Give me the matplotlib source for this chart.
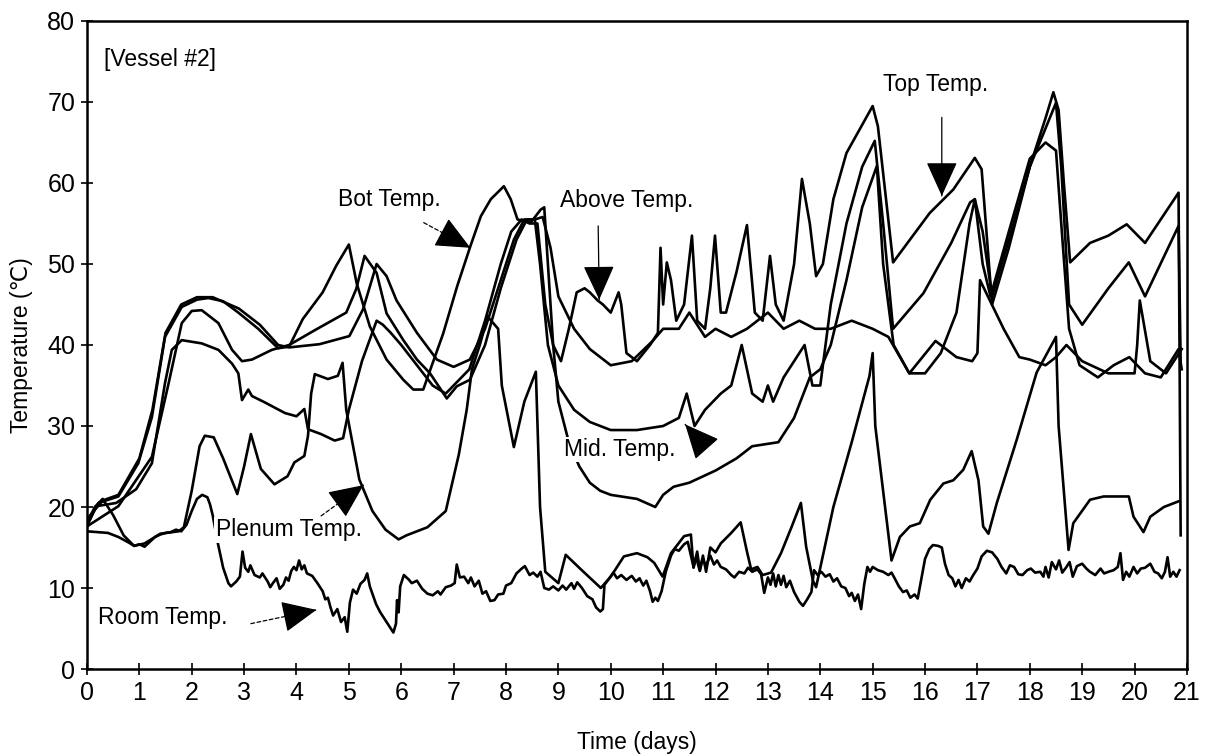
import matplotlib
matplotlib.use("Agg")
import matplotlib.pyplot as plt

plt.rcParams['font.family'] = ['Liberation Sans', 'DejaVu Sans']

# ---------------- data: (day, temperature degC) pairs ----------------
room = [(0, 17.0), (0.2, 16.9), (0.4, 16.8), (0.6, 16.3), (0.8, 15.6), (0.9, 15.2), (1.0, 15.4), (1.1, 15.1),
        (1.2, 15.7), (1.3, 16.3), (1.4, 16.6), (1.5, 16.8), (1.6, 16.9), (1.7, 17.2), (1.8, 17.0), (1.9, 17.8),
        (2.0, 19.5), (2.1, 21.0), (2.2, 21.5), (2.3, 21.2), (2.35, 20.3), (2.4, 19.0), (2.5, 15.5), (2.6, 12.5),
        (2.7, 10.6), (2.75, 10.2), (2.85, 10.8), (2.92, 11.4), (2.97, 14.5), (3.02, 12.5), (3.08, 12.0),
        (3.12, 12.8), (3.2, 11.6), (3.3, 11.3), (3.35, 11.8), (3.45, 10.8), (3.5, 10.1), (3.55, 10.6),
        (3.62, 11.2), (3.68, 9.9), (3.75, 10.4), (3.8, 11.3), (3.85, 10.9), (3.9, 12.1), (3.95, 12.6),
        (4.0, 12.2), (4.05, 13.4), (4.1, 12.3), (4.15, 12.8), (4.2, 11.8), (4.3, 11.5), (4.4, 10.6), (4.5, 9.6),
        (4.55, 8.6), (4.6, 8.8), (4.65, 7.6), (4.7, 6.6), (4.78, 7.4), (4.85, 5.8), (4.92, 6.4), (4.97, 4.6),
        (5.02, 8.2), (5.08, 9.8), (5.15, 9.3), (5.22, 10.5), (5.3, 11.0), (5.35, 11.8), (5.4, 10.2), (5.45, 9.3),
        (5.52, 8.0), (5.6, 7.0), (5.7, 6.0), (5.78, 5.2), (5.85, 4.5), (5.9, 5.6), (5.92, 8.5), (5.95, 7.0),
        (5.98, 10.2), (6.05, 11.6), (6.15, 11.0), (6.2, 10.6), (6.3, 10.9), (6.4, 9.9), (6.5, 9.3), (6.6, 9.1),
        (6.7, 9.6), (6.75, 9.2), (6.85, 10.1), (6.95, 10.3), (7.02, 10.6), (7.06, 12.9), (7.12, 11.3),
        (7.2, 11.4), (7.28, 10.6), (7.33, 11.3), (7.4, 10.2), (7.48, 10.9), (7.55, 9.3), (7.62, 9.6), (7.7, 8.4),
        (7.78, 8.5), (7.85, 9.2), (7.95, 9.3), (8.0, 10.3), (8.1, 10.6), (8.2, 11.8), (8.3, 12.4), (8.36, 12.7),
        (8.45, 11.6), (8.52, 11.9), (8.6, 11.4), (8.66, 12.0), (8.73, 10.0), (8.82, 9.8), (8.9, 10.2),
        (9.0, 9.7), (9.08, 10.3), (9.15, 9.8), (9.25, 10.6), (9.3, 9.9), (9.36, 10.7), (9.45, 10.0), (9.55, 9.0),
        (9.65, 8.6), (9.72, 7.6), (9.8, 7.1), (9.85, 7.4), (9.88, 10.4), (9.95, 11.0), (10.05, 11.9),
        (10.12, 11.2), (10.2, 11.6), (10.3, 11.0), (10.4, 11.5), (10.48, 10.8), (10.55, 11.2), (10.62, 10.3),
        (10.68, 10.9), (10.75, 9.6), (10.8, 8.3), (10.85, 8.8), (10.9, 8.4), (10.97, 9.6), (11.05, 12.0),
        (11.15, 14.0), (11.22, 14.8), (11.3, 14.6), (11.4, 15.4), (11.47, 15.7), (11.52, 14.3), (11.58, 12.6),
        (11.63, 13.8), (11.7, 12.1), (11.75, 13.5), (11.82, 12.8), (11.9, 14.0), (11.97, 12.9), (12.03, 13.4),
        (12.1, 12.6), (12.2, 12.3), (12.3, 11.6), (12.36, 11.3), (12.45, 12.0), (12.55, 11.8), (12.62, 12.5),
        (12.7, 12.0), (12.8, 12.3), (12.87, 11.7), (12.93, 9.4), (13.0, 11.3), (13.05, 10.4), (13.1, 11.8),
        (13.15, 10.2), (13.2, 11.6), (13.25, 10.4), (13.3, 11.5), (13.35, 10.1), (13.42, 10.9), (13.5, 9.5),
        (13.6, 8.3), (13.67, 7.8), (13.75, 8.6), (13.83, 9.5), (13.88, 12.2), (13.95, 11.6), (14.02, 12.0),
        (14.1, 11.4), (14.18, 11.7), (14.25, 10.8), (14.32, 11.2), (14.4, 10.2), (14.48, 10.0), (14.55, 9.0),
        (14.6, 9.4), (14.66, 8.4), (14.72, 9.2), (14.78, 7.4), (14.84, 10.5), (14.9, 12.6), (14.95, 12.0),
        (15.0, 12.6), (15.1, 12.2), (15.2, 12.0), (15.3, 11.6), (15.36, 11.9), (15.42, 11.2), (15.5, 10.2),
        (15.58, 9.5), (15.65, 9.7), (15.72, 8.8), (15.8, 9.2), (15.86, 8.7), (15.92, 10.8), (16.0, 13.6),
        (16.08, 14.8), (16.15, 15.3), (16.25, 15.2), (16.32, 15.0), (16.38, 13.0), (16.45, 11.6), (16.52, 11.2),
        (16.58, 10.2), (16.64, 11.0), (16.7, 10.0), (16.78, 11.2), (16.85, 10.8), (16.92, 11.6), (17.0, 12.4),
        (17.08, 13.9), (17.18, 14.6), (17.28, 14.4), (17.38, 13.6), (17.46, 12.6), (17.55, 11.8), (17.62, 12.8),
        (17.7, 12.6), (17.78, 11.7), (17.86, 11.6), (17.95, 12.2), (18.02, 12.4), (18.1, 11.9), (18.2, 12.0),
        (18.26, 11.4), (18.3, 12.6), (18.36, 11.3), (18.42, 13.2), (18.5, 12.3), (18.56, 13.4), (18.62, 11.9),
        (18.7, 12.6), (18.76, 13.2), (18.82, 11.4), (18.9, 12.7), (19.0, 13.0), (19.08, 12.4), (19.15, 12.0),
        (19.25, 11.6), (19.35, 12.4), (19.42, 11.8), (19.5, 12.0), (19.6, 12.2), (19.68, 12.6), (19.73, 14.3),
        (19.78, 11.0), (19.84, 12.0), (19.9, 11.4), (19.98, 12.6), (20.05, 11.8), (20.12, 12.4), (20.2, 12.5),
        (20.3, 13.0), (20.38, 12.0), (20.45, 11.8), (20.52, 11.2), (20.58, 12.0), (20.63, 13.8), (20.68, 11.4),
        (20.74, 12.0), (20.8, 11.4), (20.86, 12.2)]

plenum = [(0, 18), (0.15, 20), (0.3, 21), (0.5, 19), (0.7, 16.5), (0.9, 15.2), (1.1, 15.5), (1.4, 16.7),
          (1.75, 17), (1.85, 17.5), (2.0, 22), (2.15, 27.5), (2.25, 28.8), (2.42, 28.6), (2.6, 26), (2.87, 21.6),
          (3.0, 25), (3.13, 29), (3.32, 24.7), (3.58, 22.8), (3.83, 23.8), (3.96, 25.5), (4.15, 26.3),
          (4.22, 28.8), (4.28, 34), (4.35, 36.4), (4.6, 35.8), (4.79, 36.2), (4.88, 37.8), (4.95, 32),
          (5.2, 23.4), (5.45, 19.5), (5.7, 17.2), (5.95, 16), (6.1, 16.5), (6.5, 17.5), (6.85, 19.5),
          (7.1, 26.5), (7.25, 32), (7.35, 37), (7.5, 40), (7.65, 43.5), (7.85, 42), (7.92, 35), (8.15, 27.4),
          (8.35, 33), (8.57, 36.7), (8.65, 20), (8.75, 12), (9.0, 10.6), (9.14, 14.1), (9.43, 12.3), (9.81, 10),
          (10.0, 11.4), (10.25, 13.9), (10.5, 14.3), (10.7, 13.8), (10.83, 13.1), (10.99, 11.4), (11.15, 14.3),
          (11.4, 16.4), (11.53, 16.6), (11.58, 12.5), (11.65, 14.5), (11.7, 12.2), (11.76, 14.0), (11.82, 12.0),
          (11.9, 15), (12.0, 14.4), (12.1, 15.5), (12.3, 16.8), (12.48, 18.1), (12.6, 14.5), (12.68, 12.3),
          (12.8, 12.6), (12.9, 11.6), (13.06, 11.9), (13.25, 14.3), (13.45, 17.5), (13.63, 20.5), (13.73, 15.1),
          (13.86, 10.9), (13.92, 10.1), (14.25, 20), (14.6, 28), (14.94, 36.2), (15.0, 39), (15.05, 30),
          (15.36, 13.4), (15.52, 16.3), (15.71, 17.6), (15.9, 18), (16.1, 20.9), (16.35, 22.9), (16.54, 23.3),
          (16.73, 24.6), (16.89, 26.9), (17.02, 23.3), (17.11, 17.6), (17.21, 16.7), (17.37, 20.5), (17.75, 28.3),
          (18.13, 36.6), (18.5, 41), (18.55, 30), (18.74, 14.7), (18.83, 18), (19.15, 20.9), (19.41, 21.3),
          (19.89, 21.3), (19.98, 18.8), (20.17, 16.9), (20.3, 18.8), (20.56, 20), (20.84, 20.7)]

top = [(0, 17.6), (0.18, 20.1), (0.56, 20.5), (0.94, 22.2), (1.24, 25.4), (1.49, 35.3), (1.62, 39.4), (1.81, 40.6),
       (2.19, 40.2), (2.51, 39.4), (2.77, 37.7), (2.89, 36.5), (2.96, 33.2), (3.08, 34.5), (3.15, 33.7),
       (3.4, 32.9), (3.78, 31.6), (4.0, 31.2), (4.15, 32.1), (4.22, 29.6), (4.47, 29), (4.73, 28.2), (4.89, 28.5),
       (5.0, 32), (5.25, 38), (5.53, 43), (5.65, 42.5), (5.8, 41.5), (6.0, 40), (6.3, 37.5), (6.6, 35), (6.85, 34),
       (7.0, 35), (7.3, 37), (7.6, 43), (7.9, 50), (8.1, 54), (8.3, 55.5), (8.45, 55), (8.6, 55), (8.75, 45),
       (8.9, 40), (9.05, 38), (9.2, 42), (9.35, 46.5), (9.5, 47), (9.6, 46.5), (9.75, 45.5), (9.85, 45),
       (10.0, 44), (10.15, 46.5), (10.2, 45), (10.3, 39), (10.5, 38), (10.75, 40), (10.9, 41.5), (10.95, 52),
       (11.0, 45), (11.07, 50.2), (11.15, 48), (11.25, 43), (11.4, 45), (11.55, 53.5), (11.65, 43), (11.8, 42),
       (11.9, 47), (11.99, 53.5), (12.1, 44), (12.2, 44), (12.4, 49), (12.6, 54.8), (12.75, 44), (12.9, 43),
       (13.04, 51), (13.15, 45), (13.3, 43), (13.5, 50), (13.65, 60.5), (13.8, 55), (13.92, 48.5), (14.05, 50),
       (14.25, 58), (14.5, 63.7), (15.0, 69.5), (15.1, 67), (15.39, 50.2), (16.09, 56.3), (16.54, 59.2),
       (16.95, 63.1), (17.08, 61.7), (17.28, 45), (17.6, 52), (18.0, 62), (18.3, 68), (18.45, 71.2), (18.55, 69),
       (18.65, 60), (18.77, 50.2), (19.15, 52.6), (19.5, 53.5), (19.85, 54.9), (20.2, 52.6), (20.84, 58.8),
       (20.88, 16.5)]

mid = [(0, 17.6), (0.6, 20.1), (1.24, 26.2), (1.56, 35.3), (1.81, 42.7), (2.0, 44.2), (2.19, 44.3), (2.51, 42.7),
       (2.77, 39.4), (2.96, 38.0), (3.15, 38.2), (3.53, 39.4), (3.86, 40), (4.37, 41.9), (4.95, 44), (5.14, 46.9),
       (5.3, 51), (5.53, 48.9), (5.72, 43.9), (6.04, 40.6), (6.3, 38.2), (6.55, 36.5), (6.87, 33.4), (7.06, 34.9),
       (7.31, 35.7), (7.6, 40), (7.9, 47), (8.2, 53), (8.4, 55.5), (8.55, 55.5), (8.65, 50), (8.8, 40), (9.0, 35),
       (9.3, 32), (9.6, 30.5), (10.0, 29.5), (10.5, 29.5), (11.0, 30), (11.3, 31), (11.45, 34), (11.6, 30),
       (11.8, 32), (12.1, 34), (12.3, 35), (12.5, 40), (12.7, 34), (12.9, 33), (13.0, 35), (13.1, 33), (13.3, 36),
       (13.5, 38), (13.7, 40), (13.85, 35), (14.0, 35), (14.2, 45), (14.5, 55), (14.8, 62), (15.04, 65.2),
       (15.2, 55), (15.39, 42), (15.97, 46.4), (16.5, 52.6), (16.86, 57.6), (16.95, 58), (17.1, 54), (17.28, 46),
       (17.6, 53), (18.0, 62), (18.5, 69.9), (18.6, 62), (18.75, 45), (19.0, 42.5), (19.5, 47), (19.89, 50.2),
       (20.2, 46), (20.84, 54.7), (20.88, 38)]

bot = [(0, 18), (0.22, 20.5), (0.6, 21.3), (0.98, 25.4), (1.24, 31.1), (1.49, 41), (1.81, 44.7), (2.1, 45.6),
       (2.32, 45.8), (2.6, 45.4), (2.89, 44.0), (3.27, 42.0), (3.65, 39.6), (3.86, 39.8), (4.12, 43.2), (4.5, 46.5),
       (4.76, 49.8), (5.0, 52.4), (5.15, 47.6), (5.4, 42.3), (5.72, 38.2), (6.04, 35.7), (6.23, 34.5),
       (6.42, 34.5), (6.8, 41.4), (7.07, 47.3), (7.32, 52.2), (7.52, 55.9), (7.71, 58), (7.96, 59.6), (8.09, 58),
       (8.22, 55.5), (8.47, 55.1), (8.66, 56.7), (8.73, 57), (8.8, 50), (8.9, 40), (9.0, 33), (9.2, 28), (9.4, 25),
       (9.6, 23), (9.8, 22), (10.0, 21.5), (10.5, 21), (10.85, 20), (11.0, 21.5), (11.2, 22.5), (11.5, 23),
       (12.0, 24.5), (12.4, 26), (12.7, 27.5), (13.2, 28), (13.5, 31), (13.8, 36), (14.0, 37), (14.2, 40),
       (14.5, 48), (14.8, 57), (15.08, 62.1), (15.2, 50), (15.4, 40), (15.7, 36.5), (16.0, 36.5), (16.3, 39),
       (16.6, 44), (16.85, 55), (16.95, 58), (17.1, 50), (17.25, 46), (17.6, 54), (18.0, 63), (18.3, 65),
       (18.5, 64), (18.6, 55), (18.75, 42), (18.95, 37.5), (19.3, 36), (19.6, 37.5), (19.9, 38.5), (20.2, 36.5),
       (20.5, 36), (20.84, 39.5), (20.9, 37)]

above = [(0, 18.5), (0.3, 20.8), (0.6, 21.5), (1.0, 26), (1.25, 32), (1.5, 41.5), (1.8, 45), (2.1, 45.9),
         (2.4, 45.9), (2.9, 44.5), (3.3, 42.5), (3.65, 40), (3.86, 39.7), (4.44, 40.1), (5.01, 41.1), (5.27, 44.4),
         (5.53, 50), (5.72, 48.5), (5.91, 45.5), (6.3, 41.5), (6.68, 38.2), (7.0, 37.3), (7.31, 38.2), (7.6, 42),
         (7.9, 48), (8.15, 53), (8.35, 55.5), (8.55, 55.5), (8.7, 55.8), (8.85, 52), (9.0, 46), (9.3, 42),
         (9.6, 39.5), (10.0, 37.5), (10.4, 38), (10.8, 40.5), (11.0, 42), (11.3, 42), (11.5, 44), (11.8, 41),
         (12.0, 42), (12.3, 41), (12.6, 42), (13.0, 44), (13.3, 42), (13.6, 43), (13.9, 42), (14.2, 42),
         (14.6, 43), (15.0, 42), (15.3, 41), (15.7, 36.5), (16.2, 40.5), (16.6, 38.5), (16.9, 38), (17.0, 39),
         (17.05, 48), (17.2, 46), (17.5, 42), (17.8, 38.5), (18.0, 38.2), (18.3, 37.5), (18.5, 38.5), (18.7, 40),
         (19.0, 38), (19.5, 36.5), (20.0, 36.5), (20.05, 40), (20.1, 45.5), (20.3, 38), (20.6, 36.5), (20.9, 39.5)]

series = [room, plenum, top, mid, bot, above]

# ---------------- figure ----------------
fig = plt.figure(figsize=(12.06, 7.55), dpi=100)
ax = fig.add_axes([0.0721, 0.1139, 0.9121, 0.8583])

for s in series:
    days, vals = zip(*s)
    ax.plot(days, vals, color='black', lw=1.9)

ax.set_xlim(0, 21)
ax.set_ylim(0, 80)
ax.set_xticks(range(0, 22))
ax.set_yticks(range(0, 81, 10))
ax.tick_params(direction='inout', length=9, width=1.2, labelsize=18, pad=4)
for sp in ax.spines.values():
    sp.set_linewidth(1.8)

ax.set_xlabel('Time (days)', fontsize=16.5, labelpad=19)
ax.set_ylabel('Temperature (\u2103)', fontsize=16.5, labelpad=10)

tkw = dict(fontsize=16.5, color='black')
box = dict(facecolor='white', edgecolor='none', pad=1.0)
ax.text(0.33, 75.3, '[Vessel #2]', ha='left', va='center', **tkw)
ax.text(4.8, 58.0, 'Bot Temp.', ha='left', va='center', **tkw)
ax.text(9.04, 57.8, 'Above Temp.', ha='left', va='center', **tkw)
ax.text(9.1, 27.1, 'Mid. Temp.', ha='left', va='center', bbox=box, **tkw)
ax.text(15.2, 72.2, 'Top Temp.', ha='left', va='center', **tkw)
ax.text(2.46, 17.2, 'Plenum Temp.', ha='left', va='center', bbox=box, **tkw)
ax.text(0.21, 6.3, 'Room Temp.', ha='left', va='center', bbox=box, **tkw)


def arrow(x0, y0, x1, y1, dashed=False):
    # shaft
    ax.annotate('', xy=(x1, y1), xytext=(x0, y0),
                arrowprops=dict(arrowstyle='-', lw=0.9,
                                linestyle=(0, (3, 2)) if dashed else '-',
                                color='black', shrinkA=0, shrinkB=0))
    # solid filled head
    hx = x1 - 0.2 * (x1 - x0)
    hy = y1 - 0.2 * (y1 - y0)
    ax.annotate('', xy=(x1, y1), xytext=(hx, hy),
                arrowprops=dict(arrowstyle='-|>,head_length=1.1,head_width=0.5', lw=0.9,
                                mutation_scale=20, color='black', shrinkA=0, shrinkB=0))


arrow(6.43, 55.1, 7.32, 52.0, dashed=True)
arrow(9.76, 54.7, 9.78, 45.6)
arrow(11.68, 28.3, 11.42, 30.2, dashed=True)
arrow(16.32, 68.1, 16.32, 58.4)
arrow(4.47, 18.9, 5.28, 22.7, dashed=True)
arrow(3.13, 5.6, 4.38, 7.3, dashed=True)

fig.savefig('out.png', dpi=100)
